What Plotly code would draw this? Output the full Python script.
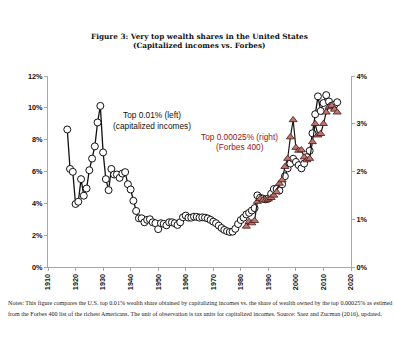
import plotly.graph_objects as go

# Top 0.01% wealth share (capitalized incomes), left axis, %
cap_years = list(range(1917, 2016))
cap_share = [
    8.64, 6.16, 5.98, 3.96, 4.10, 5.52, 4.48, 4.93, 6.08, 6.81,   # 1917-1926
    7.58, 9.08, 10.12, 7.20, 5.52, 4.83, 6.16, 5.81, 5.81, 5.60,  # 1927-1936
    5.87, 5.96, 5.20, 4.87, 4.16, 3.52, 3.06, 3.06, 2.81, 2.96,   # 1937-1946
    3.00, 2.81, 2.75, 2.38, 2.75, 2.71, 2.62, 2.81, 2.81, 2.75,   # 1947-1956
    2.64, 2.81, 3.12, 3.23, 3.10, 3.10, 3.16, 3.15, 3.10, 3.12,   # 1957-1966
    3.10, 3.05, 2.96, 2.85, 2.75, 2.60, 2.45, 2.33, 2.25, 2.20,   # 1967-1976
    2.22, 2.40, 2.70, 2.95, 3.10, 3.30, 3.40, 3.55, 3.70, 4.50,   # 1977-1986
    4.35, 4.30, 4.25, 4.30, 4.60, 4.90, 4.90, 4.80, 5.20, 5.70,   # 1987-1996
    6.20, 6.50, 6.80, 6.60, 6.40, 6.20, 6.50, 6.90, 7.30, 8.40,   # 1997-2006
    9.60, 10.72, 9.80, 10.30, 10.80, 10.40, 10.14, 10.20, 10.35,  # 2007-2015
]

# Top 0.00025% wealth share (Forbes 400), right axis, %
forbes_years = list(range(1982, 2016))
forbes_share = [
    0.85, 0.95, 0.92, 0.97, 1.37, 1.43, 1.40, 1.40, 1.42, 1.45,   # 1982-1991
    1.50, 1.57, 1.75, 1.82, 2.10, 2.27, 2.72, 3.08, 2.50, 2.44,   # 1992-2001
    2.45, 2.30, 2.24, 2.27, 2.62, 3.00, 2.76, 2.79, 3.00, 3.24,   # 2002-2011
    3.35, 3.38, 3.30, 3.24,                                       # 2012-2015
]

x_ticks = list(range(1910, 2021, 10))
left_ticks = [0, 2, 4, 6, 8, 10, 12]
right_ticks = [0, 1, 2, 3, 4]

AXIS_GREY = "#a8a8a8"
TICK_FONT = dict(family="Liberation Sans", size=7.3, color="#111111", weight="bold")
LABEL_FONT = "Liberation Sans"
DARK_RED = "#9b1414"

fig = go.Figure()

fig.add_trace(go.Scatter(
    x=cap_years, y=cap_share, mode="lines+markers",
    line=dict(color="#111111", width=1.3),
    marker=dict(symbol="circle", size=7, color="white",
                line=dict(color="#111111", width=1)),
    showlegend=False, hoverinfo="skip",
))

fig.add_trace(go.Scatter(
    x=forbes_years, y=forbes_share, mode="lines+markers", yaxis="y2",
    line=dict(color="#1a1a1a", width=1.2),
    marker=dict(symbol="triangle-up", size=7, color="#b7786f",
                line=dict(color="#4a1414", width=0.8)),
    showlegend=False, hoverinfo="skip",
))

fig.update_layout(
    width=394, height=340,
    margin=dict(l=48, r=43, t=76, b=73),
    paper_bgcolor="white", plot_bgcolor="white",
    xaxis=dict(
        range=[1910, 2020], tickvals=x_ticks, ticktext=[str(t) for t in x_ticks],
        tickangle=-90,
        showline=True, linecolor=AXIS_GREY, linewidth=1,
        ticks="outside", ticklen=3, tickcolor=AXIS_GREY,
        showgrid=False, zeroline=False, tickfont=TICK_FONT,
    ),
    yaxis=dict(
        range=[0, 12], tickvals=left_ticks,
        ticktext=[f"{t}%" for t in left_ticks],
        showline=True, linecolor=AXIS_GREY, linewidth=1,
        ticks="outside", ticklen=3, tickcolor=AXIS_GREY,
        showgrid=False, zeroline=False, tickfont=TICK_FONT,
    ),
    yaxis2=dict(
        range=[0, 4], tickvals=right_ticks,
        ticktext=[f"{t}%" for t in right_ticks],
        overlaying="y", side="right", anchor="x",
        showline=True, linecolor=AXIS_GREY, linewidth=1,
        ticks="outside", ticklen=3, tickcolor=AXIS_GREY,
        showgrid=False, zeroline=False, tickfont=TICK_FONT,
    ),
)

title_font = dict(family="DejaVu Serif", size=7.3, color="#111111", weight="bold")
notes_font = dict(family="Liberation Serif", size=6.1, color="#222222")

annotations = [
    # figure title
    dict(text="Figure 3: Very top wealth shares in the United States",
         xref="paper", yref="paper", x=0.5, y=1.205, font=title_font),
    dict(text="(Capitalized incomes vs. Forbes)",
         xref="paper", yref="paper", x=0.5, y=1.16, font=title_font),
    # series labels
    dict(text="Top 0.01% (left)", xref="x", yref="y", x=1947.9, y=9.58,
         font=dict(family=LABEL_FONT, size=8.3, color="#111111")),
    dict(text="(capitalized incomes)", xref="x", yref="y", x=1947.9, y=8.89,
         font=dict(family=LABEL_FONT, size=8.3, color="#111111")),
    dict(text="Top 0.00025% (right)", xref="x", yref="y", x=1979.6, y=8.14,
         font=dict(family=LABEL_FONT, size=8.3, color=DARK_RED)),
    dict(text="(Forbes 400)", xref="x", yref="y", x=1979.6, y=7.52,
         font=dict(family=LABEL_FONT, size=8.3, color=DARK_RED)),
    # notes
    dict(text="Notes: This figure compares the U.S. top 0.01% wealth share obtained by "
              "capitalizing incomes vs. the share of wealth owned by the top 0.00025% as estimed",
         xref="paper", yref="paper", x=-0.14, y=-0.188, xanchor="left", font=notes_font),
    dict(text="from the Forbes 400 list of the richest Americans. The unit of observation is "
              "tax units for capitalized incomes. Source: Saez and Zucman (2016), updated.",
         xref="paper", yref="paper", x=-0.14, y=-0.25, xanchor="left", font=notes_font),
]
for a in annotations:
    a.setdefault("xanchor", "center")
    a.setdefault("yanchor", "middle")
    a["showarrow"] = False
fig.update_layout(annotations=annotations)

fig.write_html("out.html")
